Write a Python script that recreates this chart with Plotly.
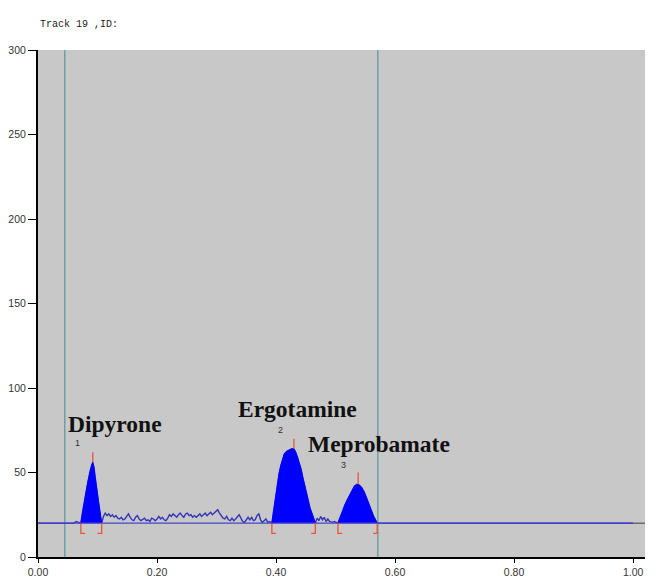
import plotly.graph_objects as go

# ---------------- data ----------------
track_title = "Track 19 ,ID:"

signal_x = [
    0.000, 0.060, 0.064, 0.068,
    # peak 1
    0.072, 0.075, 0.078, 0.081, 0.084, 0.087, 0.090, 0.092, 0.094, 0.096, 0.099, 0.102, 0.105, 0.107,
    # noise
    0.110, 0.113, 0.116, 0.119, 0.122, 0.125, 0.128, 0.131, 0.134, 0.137, 0.140, 0.143, 0.146, 0.149,
    0.152, 0.155, 0.158, 0.161, 0.164, 0.167, 0.170, 0.173, 0.176, 0.179, 0.182, 0.185, 0.188, 0.191,
    0.194, 0.197, 0.200, 0.203, 0.206, 0.209, 0.212, 0.215, 0.218, 0.221, 0.224, 0.227, 0.230, 0.233,
    0.236, 0.239, 0.242, 0.245, 0.248, 0.251, 0.254, 0.257, 0.260, 0.263, 0.266, 0.269, 0.272, 0.275,
    0.278, 0.281, 0.284, 0.287, 0.290, 0.293, 0.296, 0.299, 0.302, 0.305, 0.308, 0.311, 0.314, 0.317,
    0.320, 0.323, 0.326, 0.329, 0.332, 0.335, 0.338, 0.341, 0.344, 0.347, 0.350, 0.353, 0.356, 0.359,
    0.362, 0.365, 0.368, 0.371, 0.374, 0.377, 0.380, 0.383, 0.386, 0.389,
    # peak 2
    0.393, 0.396, 0.399, 0.402, 0.405, 0.408, 0.411, 0.414, 0.418, 0.422, 0.426, 0.430, 0.433, 0.436,
    0.439, 0.442, 0.445, 0.448, 0.451, 0.454, 0.457, 0.460, 0.463, 0.466,
    # noise
    0.469, 0.472, 0.475, 0.478, 0.481, 0.484, 0.487, 0.490, 0.494, 0.498,
    # peak 3
    0.504, 0.508, 0.512, 0.516, 0.520, 0.524, 0.528, 0.532, 0.536, 0.540, 0.544, 0.548, 0.552, 0.556,
    0.560, 0.564, 0.567, 0.570,
    # baseline to end
    1.000,
]
signal_y = [
    20, 20, 21, 20.5,
    20, 27, 33, 39, 45, 50, 54, 56, 53, 47, 39, 31, 24, 20,
    24, 26, 24.5, 25.5, 24, 25, 23.5, 24.5, 23, 22.5, 23.5, 22, 22.5, 24,
    25.5, 23.5, 22, 21.5, 23.5, 24.5, 22.5, 21.5, 22.5, 23, 21.5, 22, 21, 23,
    22.5, 21.5, 22.5, 24, 22.5, 23.5, 22, 21.5, 23, 25, 24, 25.5, 24.5, 23.5,
    25, 26, 24.5, 23.5, 25.5, 26, 24.5, 25, 23.5, 24.5, 23.5, 24.5, 25.5, 24,
    25, 26, 24.5, 25.5, 26.5, 25, 26, 27.5, 28, 26, 24.5, 23, 22.5, 24,
    22, 21.5, 23, 21.5, 22.5, 24, 25, 23, 21, 20.5, 22, 23.5, 22, 23.5,
    21.5, 22, 24.5, 25.5, 22, 20.5, 21.5, 22.5, 20.5, 21,
    20, 28, 36, 43, 49, 54, 58, 61, 62.5, 63.5, 64, 64, 62, 59,
    56, 52, 47, 42, 37, 33, 29, 26, 23, 20,
    23, 21.5, 24, 22, 23.5, 21, 22.5, 21, 20.5, 21,
    20, 24, 28, 31, 34, 37, 40, 42, 43, 42.5, 41, 38.5, 35, 31,
    27, 24, 22, 20,
    20,
]

baseline_level = 20
peak_names = ["Dipyrone", "Ergotamine", "Meprobamate"]
peak_numbers = ["1", "2", "3"]
peak_start = [0.072, 0.393, 0.504]
peak_end = [0.107, 0.466, 0.570]
peak_apex_x = [0.092, 0.430, 0.538]
peak_apex_y = [56, 64, 43]
apex_mark_top = [62, 70, 50]
bracket_bottom = 14
bracket_foot = 0.007
track_bounds = [0.045, 0.571]

# label anchor positions (data units)
name_x = [0.047, 0.332, 0.450]
name_y = [78.5, 87.5, 67]
number_x = [0.066, 0.407, 0.514]
number_y = [67.5, 75, 54.4]

x_ticks = [0.0, 0.2, 0.4, 0.6, 0.8, 1.0]
y_ticks = [0, 50, 100, 150, 200, 250, 300]
x_range = [0, 1.02]
y_range = [0, 300]

# ---------------- figure ----------------
fig = go.Figure()

# track boundary lines
for tb in track_bounds:
    fig.add_trace(go.Scatter(x=[tb, tb], y=y_range, mode="lines",
                             line=dict(color="#6E9FA6", width=1.5),
                             hoverinfo="skip", showlegend=False))

# grey continuation of baseline past 1.00
fig.add_trace(go.Scatter(x=[signal_x[-1], x_range[1]], y=[baseline_level, baseline_level],
                         mode="lines", line=dict(color="#555555", width=1.2),
                         hoverinfo="skip", showlegend=False))

# signal line
fig.add_trace(go.Scatter(x=signal_x, y=signal_y, mode="lines",
                         line=dict(color="#3434B8", width=1.4),
                         hoverinfo="skip", showlegend=False))

# filled peaks
for s, e in zip(peak_start, peak_end):
    px = [x for x in signal_x if s <= x <= e]
    py = [y for x, y in zip(signal_x, signal_y) if s <= x <= e]
    fig.add_trace(go.Scatter(x=px, y=py, mode="lines", fill="toself",
                             fillcolor="#0000FF", line=dict(color="#0000FF", width=1),
                             hoverinfo="skip", showlegend=False))

# baseline line
fig.add_trace(go.Scatter(x=[0, signal_x[-1]], y=[baseline_level, baseline_level], mode="lines",
                         line=dict(color="#4646C8", width=1.2),
                         hoverinfo="skip", showlegend=False))

# red markers: apex ticks and start/end brackets
red = "#E8553A"
for i in range(len(peak_names)):
    fig.add_trace(go.Scatter(x=[peak_apex_x[i], peak_apex_x[i]],
                             y=[peak_apex_y[i], apex_mark_top[i]], mode="lines",
                             line=dict(color=red, width=1.3),
                             hoverinfo="skip", showlegend=False))
    s, e = peak_start[i], peak_end[i]
    fig.add_trace(go.Scatter(x=[s, s, s + bracket_foot],
                             y=[baseline_level, bracket_bottom, bracket_bottom], mode="lines",
                             line=dict(color=red, width=1.3),
                             hoverinfo="skip", showlegend=False))
    fig.add_trace(go.Scatter(x=[e, e, e - bracket_foot],
                             y=[baseline_level, bracket_bottom, bracket_bottom], mode="lines",
                             line=dict(color=red, width=1.3),
                             hoverinfo="skip", showlegend=False))

# peak names and numbers
for i, name in enumerate(peak_names):
    fig.add_annotation(x=name_x[i], y=name_y[i], text="<b>%s</b>" % name, showarrow=False,
                       xanchor="left", yanchor="middle",
                       font=dict(family="Liberation Serif, Times New Roman, serif",
                                 size=23.5, color="#111111"))
    fig.add_annotation(x=number_x[i], y=number_y[i], text=peak_numbers[i], showarrow=False,
                       xanchor="center", yanchor="middle",
                       font=dict(family="Liberation Sans, Arial, sans-serif", size=9, color="#333333"))

# title
fig.add_annotation(xref="paper", yref="paper", x=0, y=1.051, text=track_title,
                   showarrow=False, xanchor="left", yanchor="middle",
                   font=dict(family="Liberation Mono, DejaVu Sans Mono, monospace", size=10,
                             color="#222222"))

# the page body adds an 8px offset, so the figure is sized to fit the window
fig.update_layout(
    width=653, height=580,
    margin=dict(l=30, r=16, t=42, b=31, autoexpand=False),
    paper_bgcolor="white",
    plot_bgcolor="#C8C8C8",
    showlegend=False,
    font=dict(family="Liberation Sans, Arial, sans-serif", size=10.5, color="#333333"),
)
fig.update_xaxes(range=x_range, tickvals=x_ticks, tickformat=".2f", automargin=False,
                 showline=True, linecolor="black", linewidth=2,
                 ticks="outside", ticklen=4, tickcolor="black", tickwidth=1,
                 showgrid=False, zeroline=False)
fig.update_yaxes(range=y_range, tickvals=y_ticks, automargin=False,
                 showline=True, linecolor="black", linewidth=2,
                 ticks="outside", ticklen=8, tickcolor="black", tickwidth=1,
                 showgrid=False, zeroline=False)

fig.write_html("out.html")
